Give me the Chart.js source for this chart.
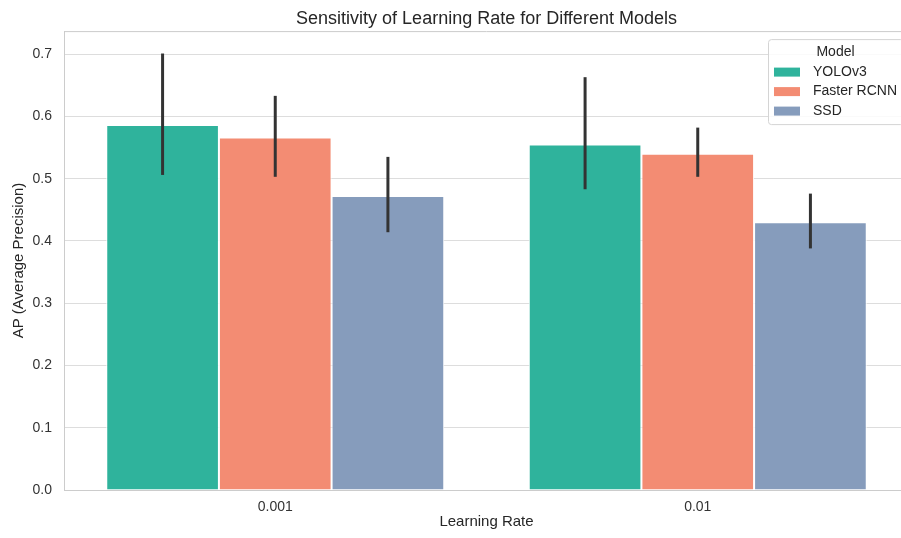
<!DOCTYPE html>
<html>
<head>
<meta charset="utf-8">
<script src="https://cdn.jsdelivr.net/npm/chart.js@4/dist/chart.umd.min.js"></script>
<style>
  html, body { margin: 0; padding: 0; background: #fff; overflow: hidden; }
  #wrap { width: 909px; height: 538px; }
</style>
</head>
<body>
<div id="wrap"><canvas id="lrChart" width="909" height="538"></canvas></div>
<script>
// learning rates on the x axis
const learningRates = ["0.001", "0.01"];
const models = ["YOLOv3", "Faster RCNN", "SSD"];

// mean AP per model, with error bar ends
const yoloAP = [0.586, 0.555];
const yoloLow = [0.506, 0.483];
const yoloHigh = [0.701, 0.663];

const fasterAP = [0.566, 0.540];
const fasterLow = [0.503, 0.503];
const fasterHigh = [0.633, 0.582];

const ssdAP = [0.472, 0.430];
const ssdLow = [0.414, 0.388];
const ssdHigh = [0.535, 0.476];

const yTicks = [0.0, 0.1, 0.2, 0.3, 0.4, 0.5, 0.6, 0.7];

const modelColors = ["#2fb39c", "#f38c73", "#869cbc"];
const FONT = "'Liberation Sans', Arial, sans-serif";

// error bars drawn from the data through the y scale
const errorBars = {
  id: "errorBars",
  afterDatasetsDraw(chart) {
    const ctx = chart.ctx;
    const yScale = chart.scales.y;
    ctx.save();
    ctx.strokeStyle = "#333333";
    ctx.lineWidth = 3;
    chart.data.datasets.forEach((ds, i) => {
      const meta = chart.getDatasetMeta(i);
      meta.data.forEach((bar, j) => {
        const y1 = yScale.getPixelForValue(ds.errLow[j]);
        const y2 = yScale.getPixelForValue(ds.errHigh[j]);
        ctx.beginPath();
        ctx.moveTo(bar.x, y1);
        ctx.lineTo(bar.x, y2);
        ctx.stroke();
      });
    });
    ctx.restore();
  },
};

// top/right spines + seaborn-like legend box
const frameAndLegend = {
  id: "frameAndLegend",
  afterDraw(chart) {
    const ctx = chart.ctx;
    const area = chart.chartArea;
    ctx.save();
    ctx.strokeStyle = "#cccccc";
    ctx.lineWidth = 1;
    ctx.beginPath();
    ctx.moveTo(area.left, area.top + 0.5);
    ctx.lineTo(area.right, area.top + 0.5);
    ctx.moveTo(area.right - 0.5, area.top);
    ctx.lineTo(area.right - 0.5, area.bottom);
    ctx.stroke();

    // legend
    ctx.font = "14px " + FONT;
    let maxText = 0;
    chart.data.datasets.forEach((ds) => {
      maxText = Math.max(maxText, ctx.measureText(ds.label).width);
    });
    const pad = 6, swW = 26, swH = 9, gap = 13, rowH = 19.5;
    const w = pad + swW + gap + maxText + pad;
    const h = 85;
    const x = area.right - 6 - w;
    const y = area.top + 8;
    ctx.fillStyle = "rgba(255,255,255,0.85)";
    ctx.strokeStyle = "#d4d4d4";
    ctx.beginPath();
    ctx.roundRect(x + 0.5, y + 0.5, w, h, 3);
    ctx.fill();
    ctx.stroke();

    ctx.fillStyle = "#262626";
    ctx.textBaseline = "middle";
    ctx.textAlign = "center";
    ctx.fillText("Model", x + w / 2, y + 13);
    ctx.textAlign = "left";
    chart.data.datasets.forEach((ds, i) => {
      const cy = y + 33 + i * rowH;
      ctx.fillStyle = ds.backgroundColor;
      ctx.fillRect(x + pad, cy - swH / 2, swW, swH);
      ctx.fillStyle = "#262626";
      ctx.fillText(ds.label, x + pad + swW + gap, cy);
    });
    ctx.restore();
  },
};

const ctx = document.getElementById("lrChart").getContext("2d");

new Chart(ctx, {
  type: "bar",
  data: {
    labels: learningRates,
    datasets: [
      { label: models[0], data: yoloAP, errLow: yoloLow, errHigh: yoloHigh, backgroundColor: modelColors[0] },
      { label: models[1], data: fasterAP, errLow: fasterLow, errHigh: fasterHigh, backgroundColor: modelColors[1] },
      { label: models[2], data: ssdAP, errLow: ssdLow, errHigh: ssdHigh, backgroundColor: modelColors[2] },
    ].map((d) => Object.assign(d, {
      borderColor: "#ffffff",
      borderWidth: 1,
      categoryPercentage: 0.8,
      barPercentage: 1.0,
    })),
  },
  options: {
    responsive: false,
    animation: false,
    devicePixelRatio: 1,
    layout: { padding: { left: 0, right: 0, top: 0, bottom: 0 } },
    plugins: {
      legend: { display: false },
      tooltip: { enabled: false },
      title: {
        display: true,
        fullSize: false,
        text: "Sensitivity of Learning Rate for Different Models",
        color: "#262626",
        font: { family: FONT, size: 18, weight: "normal" },
        padding: { top: 8, bottom: 1.5 },
      },
    },
    scales: {
      x: {
        grid: { display: false, drawTicks: false },
        border: { display: true, color: "#cccccc", width: 1 },
        ticks: { color: "#333333", font: { family: FONT, size: 14 }, padding: 9 },
        title: {
          display: true,
          text: "Learning Rate",
          color: "#262626",
          font: { family: FONT, size: 15 },
          padding: { top: 0, bottom: 7 },
        },
        afterFit(scale) { scale.height = 48; },
      },
      y: {
        min: 0,
        max: 0.737,
        grid: { color: "#dddddd", lineWidth: 1, drawTicks: false },
        border: { display: true, color: "#cccccc", width: 1 },
        ticks: {
          color: "#333333",
          font: { family: FONT, size: 14 },
          padding: 12,
          callback: (v) => Number(v).toFixed(1),
        },
        afterBuildTicks(scale) {
          scale.ticks = yTicks.map((v) => ({ value: v }));
        },
        title: {
          display: true,
          text: "AP (Average Precision)",
          color: "#262626",
          font: { family: FONT, size: 15 },
          padding: { top: 10, bottom: 0 },
        },
        afterFit(scale) { scale.width = 64; },
      },
    },
  },
  plugins: [errorBars, frameAndLegend],
});
</script>
</body>
</html>
